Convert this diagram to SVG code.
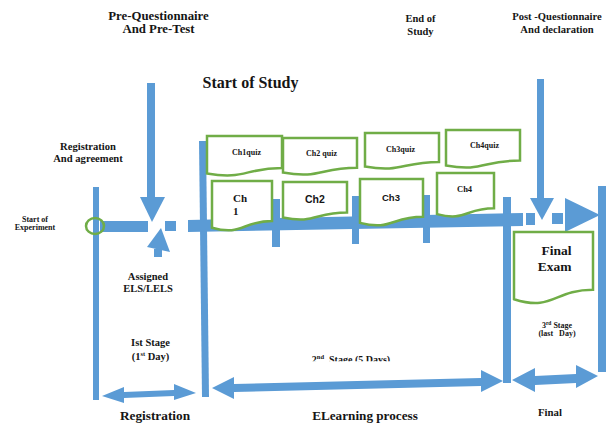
<svg xmlns="http://www.w3.org/2000/svg" width="607" height="424" viewBox="0 0 607 424">
  <style>
    .bar { fill: #5B9BD5; }
    .doc { fill: #ffffff; stroke: #70AD47; stroke-width: 2.5; stroke-linejoin: miter; }
    .lbl { font-family: "Liberation Serif", "Times New Roman", serif; font-weight: bold; fill: #151515; text-anchor: middle; }
    .lft { text-anchor: start; }
    .sans { font-family: "Liberation Sans", Arial, sans-serif; }
  </style>
  <defs>
    <clipPath id="stage2clip">
      <rect x="280" y="340" width="200" height="21.3"/>
    </clipPath>
  </defs>

  <!-- timeline bars and arrows -->
  <g id="connectors">
    <!-- vertical stage dividers -->
    <rect class="bar" x="93" y="187" width="6" height="213"/>
    <polygon class="bar" points="199,141 206,141 209,397 202,397"/>
    <rect class="bar" x="503" y="197" width="8" height="186"/>
    <rect class="bar" x="598" y="186" width="8" height="186"/>
    <!-- chapter ticks -->
    <rect class="bar" x="272" y="199" width="8" height="48"/>
    <rect class="bar" x="352" y="196" width="7" height="48"/>
    <rect class="bar" x="423" y="195" width="7" height="48"/>

    <!-- main horizontal timeline -->
    <rect class="bar" x="100" y="221" width="48" height="11"/>
    <rect class="bar" x="165" y="221" width="11" height="10"/>
    <polygon class="bar" points="188,220 523,213 523,226 188,232"/>
    <rect class="bar" x="526" y="213" width="9" height="12"/>
    <rect class="bar" x="552" y="213" width="11" height="11"/>
    <polygon class="bar" points="565,198 600,215 565,232"/>

    <!-- pre-questionnaire arrow (down) -->
    <rect class="bar" x="147" y="83" width="8" height="115"/>
    <polygon class="bar" points="140,197 165,197 152,222"/>
    <!-- assignment arrow (up) -->
    <rect class="bar" x="154" y="249" width="8" height="8"/>
    <polygon class="bar" points="147,247 170,252 161,228"/>
    <!-- post-questionnaire arrow (down) -->
    <rect class="bar" x="537" y="79" width="7" height="120"/>
    <polygon class="bar" points="530,198 554,198 542,220"/>

    <!-- stage span arrows -->
    <polygon class="bar" points="102,396 124,387 124,392 174,390 174,384 196,393 174,400 174,396 124,398 124,403"/>
    <polygon class="bar" points="212,388 234,377 234,384 481,378 481,370 503,381 481,392 481,386 234,392 234,399"/>
    <polygon class="bar" points="512,380 535,368 535,376 576,374 576,365 598,376 576,388 576,383 535,385 535,392"/>
  </g>

  <!-- start marker -->
  <g id="start-marker">
    <ellipse cx="95" cy="226" rx="9" ry="8" fill="none" stroke="#70AD47" stroke-width="2.5"/>
  </g>

  <!-- quiz documents -->
  <g id="ch1quiz">
    <path class="doc" d="M207,136 H282 V168.1 C244.5,168.1 244.5,180.3 207,173.4 Z"/>
    <text class="lbl" x="246.5" y="154.5" font-size="8">Ch1quiz</text>
  </g>
  <g id="ch2quiz">
    <path class="doc" d="M283,138 H357 V167.7 C320,167.7 320,179 283,172.6 Z"/>
    <text class="lbl" x="321.5" y="155.5" font-size="8">Ch2 quiz</text>
  </g>
  <g id="ch3quiz">
    <path class="doc" d="M365,133 H439 V161.9 C402,161.9 402,172.9 365,166.6 Z"/>
    <text class="lbl" x="400.5" y="151.5" font-size="8">Ch3quiz</text>
  </g>
  <g id="ch4quiz">
    <path class="doc" d="M446,130 H520 V160.5 C483,160.5 483,172.1 446,165.5 Z"/>
    <text class="lbl" x="484.5" y="148" font-size="8">Ch4quiz</text>
  </g>

  <!-- chapter documents -->
  <g id="ch1">
    <path class="doc" d="M212,181 H272 V221.1 C242,221.1 242,236.4 212,227.7 Z"/>
    <text class="lbl lft" x="233" y="201.5" font-size="11">Ch</text>
    <text class="lbl lft" x="233" y="215" font-size="11">1</text>
  </g>
  <g id="ch2">
    <path class="doc" d="M283,182 H347 V212.5 C315,212.5 315,224.1 283,217.5 Z"/>
    <text class="lbl lft sans" x="305" y="203" font-size="10.5">Ch2</text>
  </g>
  <g id="ch3">
    <path class="doc" d="M360,179 H423 V216.7 C391.5,216.7 391.5,231 360,222.9 Z"/>
    <text class="lbl lft sans" x="382" y="201" font-size="9.5">Ch3</text>
  </g>
  <g id="ch4">
    <path class="doc" d="M437,173 H494 V208.3 C465.5,208.3 465.5,221.7 437,214.1 Z"/>
    <text class="lbl lft" x="457" y="191.5" font-size="8.5">Ch4</text>
  </g>

  <!-- final exam document -->
  <g id="final-exam">
    <path class="doc" d="M514,232 H593 V289.7 C553.5,289.7 553.5,311.7 514,299.2 Z"/>
    <text class="lbl" x="556.5" y="255" font-size="13.5">Final</text>
    <text class="lbl" x="554.5" y="270.5" font-size="13.5">Exam</text>
  </g>

  <!-- headings -->
  <g id="pre-questionnaire">
    <text class="lbl" x="158.5" y="19.5" font-size="12.8">Pre-Questionnaire</text>
    <text class="lbl" x="158.5" y="33" font-size="12.8">And Pre-Test</text>
  </g>
  <g id="start-of-study">
    <text class="lbl" x="250.5" y="88" font-size="16">Start of Study</text>
  </g>
  <g id="end-of-study">
    <text class="lbl" x="420.5" y="21.5" font-size="10.5">End of</text>
    <text class="lbl" x="420.5" y="34.5" font-size="10.5">Study</text>
  </g>
  <g id="post-questionnaire">
    <text class="lbl" x="557" y="19.5" font-size="10.6">Post -Questionnaire</text>
    <text class="lbl" x="557" y="32.5" font-size="10.6">And declaration</text>
  </g>
  <g id="registration-agreement">
    <text class="lbl" x="88" y="149.5" font-size="10.6">Registration</text>
    <text class="lbl" x="88" y="162" font-size="10.6">And agreement</text>
  </g>
  <g id="start-of-experiment">
    <text class="lbl" x="35" y="221.5" font-size="8">Start of</text>
    <text class="lbl" x="35" y="230" font-size="8">Experiment</text>
  </g>
  <g id="assigned">
    <text class="lbl" x="148" y="280" font-size="10.5">Assigned</text>
    <text class="lbl" x="148" y="291.5" font-size="10.5">ELS/LELS</text>
  </g>

  <!-- stage labels -->
  <g id="stage-1">
    <text class="lbl" x="150.5" y="346" font-size="10.5">Ist Stage</text>
    <text class="lbl" x="150.5" y="359.5" font-size="10.5">(1<tspan font-size="6.5" dy="-4">st</tspan><tspan dy="4"> Day)</tspan></text>
    <text class="lbl" x="155" y="419.5" font-size="13.3">Registration</text>
  </g>
  <g id="stage-2">
    <text class="lbl" x="351" y="362.5" font-size="10" clip-path="url(#stage2clip)" xml:space="preserve">2<tspan font-size="6.5" dy="-4">nd</tspan><tspan dy="4">  Stage (5 Days)</tspan></text>
    <text class="lbl" x="365" y="420" font-size="13.2">ELearning process</text>
  </g>
  <g id="stage-3">
    <text class="lbl" x="557" y="327.5" font-size="8">3<tspan font-size="5.5" dy="-3">rd</tspan><tspan dy="3"> Stage</tspan></text>
    <text class="lbl" x="557" y="336" font-size="8" xml:space="preserve">(last   Day)</text>
    <text class="lbl" x="550" y="416" font-size="10.8">Final</text>
  </g>
</svg>
